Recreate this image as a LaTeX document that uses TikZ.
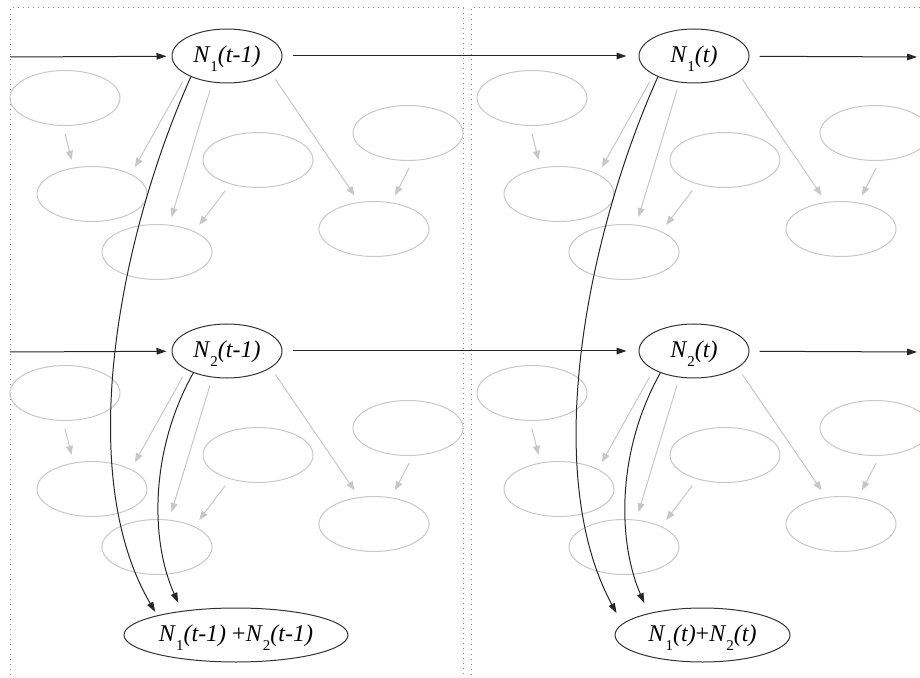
\documentclass[tikz,border=0pt]{standalone}
\usepackage{fontspec}
\setmainfont{Liberation Serif}
\usetikzlibrary{arrows.meta,shapes.geometric}

\newcommand{\lowsub}[1]{\raisebox{-4.5pt}{\fontsize{7.5}{7.5}\selectfont\upshape #1}}
\newcommand{\countlabel}[2]{\textit{N}\lowsub{#1}\textit{(#2)}}

\tikzset{
    %Define standard arrow tip
    >={Triangle[length=5pt,width=3.3pt]},
    %Define style for the count nodes
    count/.style={
           ellipse,
           draw=black!80, line width=0.5pt,
           minimum width=55pt,
           minimum height=27pt,
           inner sep=0pt,
           text height=8pt,
           text depth=1.3pt,
           font=\fontsize{12}{12}\selectfont},
    %Define style for the faded nodes
    faded/.style={
           ellipse,
           draw=black!22, line width=0.5pt,
           minimum width=55pt,
           minimum height=27.5pt,
           inner sep=0pt},
    % Define arrow styles
    link/.style={
           ->,
           draw=black!85, line width=0.5pt},
    fadedlink/.style={
           -{Triangle[length=4.5pt,width=3.5pt]},
           color=black!22, line width=0.5pt,
           shorten <=4pt,
           shorten >=4pt},
    slice/.style={draw=black!45, dotted, line width=0.5pt}
}

\begin{document}
\begin{tikzpicture}[x=0.5pt,y=-0.5pt]
\useasboundingbox (0,0) rectangle (920,678);
% time slices
\draw[slice] (10,700) -- (10,8) -- (463,8) -- (463,700);
\draw[slice] (471,700) -- (471,8) -- (940,8);
% one block per time step and count
\foreach \c/\tm in {0/t-1,1/t}{
  \foreach \r in {1,2}{
    \begin{scope}[shift={(467*\c,295*\r-295)}]
    \node[count](m\c\r) at (227,56){\countlabel{\r}{\tm}};
    \node[faded](a\c\r) at (65,98){};
    \node[faded](b\c\r) at (92,194){};
    \node[faded](c\c\r) at (157,252){};
    \node[faded](d\c\r) at (258,160){};
    \node[faded](e\c\r) at (408,133){};
    \node[faded](f\c\r) at (374,229){};
    \path[fadedlink]
        (a\c\r.266) edge (b\c\r.125)
        (m\c\r.205) edge (b\c\r.27)
        (m\c\r.241) edge (c\c\r.66)
        (d\c\r.221) edge (c\c\r.29)
        (m\c\r.339) edge (f\c\r.119)
        (e\c\r.280) edge (f\c\r.57);
    \end{scope}
  }
}
% sums
\node[count, minimum width=112pt](s0) at (236,635){\countlabel{1}{t-1} +\countlabel{2}{t-1}};
\node[count, minimum width=87.5pt](s1) at (702.5,635){\countlabel{1}{t}+\countlabel{2}{t}};
% chains over time
\coordinate (in1) at (10,57);
\coordinate (in2) at (10,352);
\coordinate (out1) at (917,57);
\coordinate (out2) at (917,352);
\foreach \r in {1,2}{
    \draw[link, shorten >=2.5pt] (in\r) -- (m0\r);
    \draw[link, shorten <=5pt, shorten >=6pt] (m0\r) -- (m1\r);
    \draw[link, shorten <=5pt] (m1\r) -- (out\r);
}
\draw[link, shorten >=2pt] (m01.210) .. controls (122,230) and (72,470) .. (s0.166);
\draw[link, shorten >=4.5pt] (m02.213) .. controls (150,450) and (150,540) .. (s0.156);
\draw[link, shorten >=6pt] (m11.210) .. controls (589,230) and (539,470) .. (s1.172);
\draw[link, shorten >=5.5pt] (m12.213) .. controls (617,450) and (617,540) .. (s1.158);
\end{tikzpicture}
\end{document}
